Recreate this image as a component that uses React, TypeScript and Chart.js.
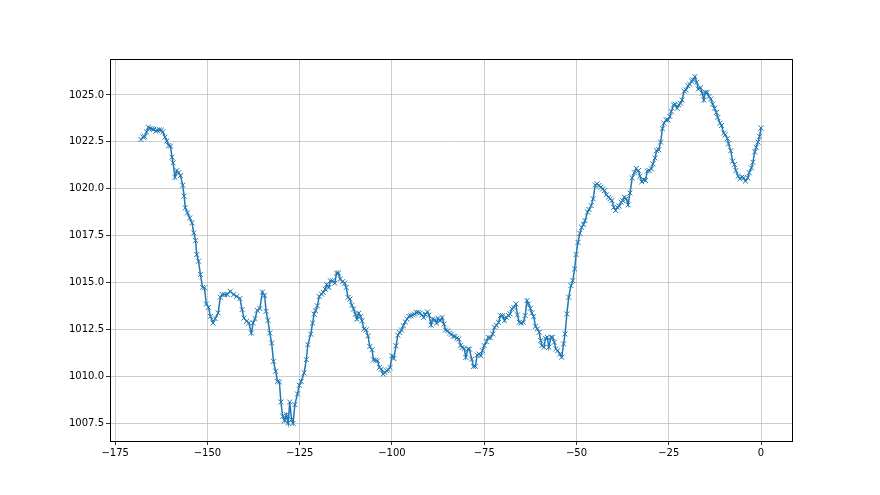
import React, { useEffect, useRef } from "react";
import { Chart, registerables } from "chart.js";

Chart.register(...registerables);

// hours relative to now
const hours: number[] = [
  -168, -167.4, -167.0, -166.5, -166.0, -165.5, -165.0, -164.6, -164.0, -163.6,
  -163.0, -162.5, -162.1, -161.5, -161.0, -160.5, -160.0, -159.6, -159.3, -158.8,
  -158.3, -157.8, -157.3, -156.7, -156.3, -156.0, -155.4, -154.8, -154.2, -153.7,
  -153.2, -152.9, -152.4, -151.9, -151.3, -150.8, -150.3, -149.7, -149.2, -148.5,
  -147.9, -147.1, -146.5, -146.0, -145.3, -144.6, -143.8, -142.9, -142.1, -141.2,
  -140.6, -140.1, -139.4, -138.8, -138.1, -137.6, -137.1, -136.5, -135.8, -135.1,
  -134.5, -134.1, -133.6, -133.1, -132.6, -132.1, -131.5, -131.0, -130.5, -130.1,
  -129.6, -129.1, -128.6, -128.1, -127.7, -127.2, -126.8, -126.3, -125.6, -125.1,
  -124.6, -123.8, -123.2, -122.8,
  -122.0, -121.5, -121.1, -120.7, -120.2, -119.7, -119.1, -118.6, -118.1, -117.7,
  -117.1, -116.7, -116.1, -115.5, -115.0, -114.5, -114.0, -113.4, -112.8, -112.4,
  -111.9, -111.4, -110.9, -110.4, -109.9, -109.5, -109.0, -108.5, -108.1, -107.6,
  -107.0, -106.5, -106.0, -105.4, -105.0, -104.4, -103.9, -103.4, -102.9, -102.4,
  -101.9, -101.4, -101.0, -100.5, -100.0, -99.5, -98.9, -98.4, -97.9, -97.4,
  -96.9, -96.4, -95.9, -95.4, -94.9, -94.4, -93.9, -93.4, -92.9, -92.4,
  -91.9, -91.4, -91.0, -90.4, -90.0, -89.4, -89.0, -88.4, -87.9, -87.5,
  -86.9, -86.4, -85.9, -85.5, -84.9, -84.4, -83.9, -83.4, -82.9, -82.4,
  -81.9, -81.4, -81.0, -80.4, -80.0, -79.4, -79.0, -78.4, -77.9,
  -77.4, -76.9, -76.4, -75.9, -75.5, -75.0, -74.4, -73.9, -73.3, -72.7,
  -72.2, -71.7, -71.1, -70.6, -70.0, -69.5, -69.0, -68.4, -68.0, -67.5,
  -67.0, -66.4, -66.0, -65.5, -65.0, -64.4, -63.9, -63.4, -63.0, -62.5,
  -62.1, -61.6, -61.1, -60.6, -60.1, -59.7, -59.4, -58.8, -58.4, -57.9,
  -57.5, -56.9, -56.5, -56.0, -55.6, -55.1, -54.5, -54.0, -53.5, -53.1,
  -52.6, -52.1, -51.5, -51.0, -50.5, -50.1, -49.6, -49.1, -48.6, -48.1,
  -47.7, -47.0, -46.6, -46.0, -45.5, -44.9, -44.4, -43.9, -43.4, -42.9,
  -42.4, -41.9, -41.3, -40.9, -40.4, -39.9, -39.4, -38.9, -38.4, -37.9,
  -37.5, -37.0, -36.5, -36.0, -35.5,
  -34.9, -34.3, -33.8, -33.2, -32.8, -32.3, -31.8, -31.3, -30.8, -30.3,
  -29.7, -29.3, -28.7, -28.3, -27.7, -27.2, -26.7, -26.3, -25.7, -25.2,
  -24.7, -24.3, -23.7, -23.3, -22.7, -22.3, -21.8, -21.4, -20.8, -20.3,
  -19.8, -19.3, -18.8, -18.4, -17.9, -17.4, -17.0, -16.4, -15.9, -15.5,
  -15.1, -14.6, -14.1, -13.6, -13.1, -12.6, -12.1, -11.7, -11.1, -10.7,
  -10.1, -9.7, -9.1, -8.8, -8.2, -7.7, -7.2, -6.8, -6.2, -5.7,
  -5.2, -4.7, -4.2, -3.6, -3.2, -2.6, -2.2, -1.7, -1.3, -0.8,
  -0.4, 0,
];

// pressure values (hPa)
const pressure: number[] = [
  1022.62, 1022.75, 1022.78, 1023.03, 1023.28, 1023.21, 1023.19, 1023.16, 1023.07, 1023.12,
  1023.14, 1023.12, 1023.03, 1022.75, 1022.54, 1022.30, 1022.27, 1021.68, 1021.38, 1020.61,
  1020.97, 1020.85, 1020.70, 1020.19, 1019.60, 1018.98, 1018.71, 1018.44, 1018.18, 1017.64,
  1017.23, 1016.49, 1016.13, 1015.42, 1014.74, 1014.71, 1013.85, 1013.67, 1013.19, 1012.84,
  1013.07, 1013.37, 1014.21, 1014.35, 1014.35, 1014.35, 1014.53, 1014.35, 1014.26, 1014.14,
  1013.55, 1013.10, 1012.93, 1012.84, 1012.30, 1012.84, 1013.07, 1013.51, 1013.60, 1014.49,
  1014.30, 1013.46, 1012.98, 1012.30, 1011.77, 1010.79, 1010.26, 1009.72, 1009.69, 1008.62,
  1007.86, 1007.62, 1007.94, 1007.50, 1008.62, 1007.68, 1007.48, 1008.48, 1009.05, 1009.51,
  1009.72, 1010.17, 1010.88, 1011.68,
  1012.24, 1012.83, 1013.31, 1013.49, 1013.75, 1014.25, 1014.38, 1014.47, 1014.64, 1014.88,
  1014.73, 1015.09, 1015.09, 1014.96, 1015.50, 1015.50, 1015.18, 1015.04, 1014.96, 1014.73,
  1014.20, 1014.11, 1013.79, 1013.58, 1013.31, 1013.04, 1013.36, 1013.19, 1012.95, 1012.51,
  1012.47, 1012.15, 1011.58, 1011.41, 1010.87, 1010.85, 1010.82, 1010.46, 1010.37, 1010.11,
  1010.20, 1010.28, 1010.34, 1010.46, 1011.09, 1010.94, 1011.62, 1012.19, 1012.33, 1012.46,
  1012.69, 1012.90, 1013.04, 1013.19, 1013.22, 1013.26, 1013.31, 1013.40, 1013.40, 1013.36,
  1013.26, 1013.13, 1013.31, 1013.43, 1013.26, 1012.72, 1013.04, 1013.01, 1012.83, 1013.08,
  1012.95, 1013.13, 1012.78, 1012.46, 1012.42, 1012.30, 1012.24, 1012.12, 1012.12, 1012.03,
  1011.98, 1011.65, 1011.53, 1011.48, 1011.00, 1011.44, 1011.44, 1010.91, 1010.52,
  1010.52, 1011.13, 1011.18, 1011.09, 1011.36, 1011.63, 1011.84, 1012.07, 1012.04, 1012.25,
  1012.61, 1012.70, 1012.87, 1013.23, 1013.23, 1012.96, 1013.14, 1013.23, 1013.32, 1013.59,
  1013.67, 1013.85, 1013.27, 1012.87, 1012.84, 1012.87, 1013.23, 1014.03, 1013.85, 1013.62,
  1013.37, 1013.18, 1012.66, 1012.52, 1012.34, 1011.90, 1011.63, 1011.54, 1012.02, 1012.07,
  1011.54, 1012.07, 1012.07, 1011.81, 1011.45, 1011.36, 1011.18, 1011.01, 1011.72, 1012.25,
  1013.32, 1014.21, 1014.83, 1015.10, 1015.72, 1016.49, 1017.14, 1017.62, 1017.94, 1018.09,
  1018.30, 1018.75, 1018.89, 1019.10, 1019.46, 1020.20, 1020.26, 1020.17, 1020.08, 1019.99,
  1019.90, 1019.67, 1019.55, 1019.46, 1019.37, 1019.01, 1018.84, 1019.01, 1019.07, 1019.28,
  1019.37, 1019.55, 1019.46, 1019.14, 1019.77,
  1020.58, 1020.85, 1021.08, 1020.97, 1020.67, 1020.37, 1020.49, 1020.44, 1020.94, 1020.97,
  1021.06, 1021.33, 1021.64, 1022.03, 1022.08, 1022.49, 1023.20, 1023.50, 1023.67, 1023.67,
  1023.85, 1024.12, 1024.47, 1024.51, 1024.29, 1024.47, 1024.56, 1024.73, 1025.21, 1025.27,
  1025.49, 1025.57, 1025.74, 1025.80, 1025.98, 1025.67, 1025.32, 1025.39, 1025.09, 1024.73,
  1025.14, 1025.14, 1024.91, 1024.79, 1024.51, 1024.29, 1024.06, 1023.80, 1023.50, 1023.37,
  1022.97, 1022.88, 1022.67, 1022.39, 1022.03, 1021.47, 1021.29, 1020.97, 1020.67, 1020.53,
  1020.62, 1020.58, 1020.41, 1020.58, 1020.85, 1021.11, 1021.41, 1021.96, 1022.21, 1022.49,
  1022.79, 1023.24,
];

const xTicks: number[] = [-175, -150, -125, -100, -75, -50, -25, 0];
const yTicks: number[] = [1007.5, 1010.0, 1012.5, 1015.0, 1017.5, 1020.0, 1022.5, 1025.0];

const frame = {
  id: "frame",
  afterDraw(chart: any) {
    const { left, top, right, bottom } = chart.chartArea;
    const ctx = chart.ctx;
    ctx.save();
    ctx.strokeStyle = "#000";
    ctx.lineWidth = 1;
    ctx.strokeRect(Math.round(left) + 0.5, Math.round(top) + 0.5, Math.round(right - left), Math.round(bottom - top));
    ctx.restore();
  },
};

export default function App() {
  const ref = useRef<HTMLCanvasElement>(null);

  useEffect(() => {
    if (!ref.current) return;
    const points = hours.map((h, i) => ({ x: h, y: pressure[i] }));
    const font = { family: "DejaVu Sans", size: 10 };
    const chart = new Chart(ref.current, {
      type: "line",
      data: {
        datasets: [
          {
            data: points,
            borderColor: "#1f77b4",
            backgroundColor: "#1f77b4",
            borderWidth: 1.5,
            pointStyle: "crossRot",
            pointRadius: 3.5,
            pointBorderWidth: 1,
            pointBorderColor: "#1f77b4",
            tension: 0,
            fill: false,
          },
        ],
      },
      options: {
        animation: false,
        responsive: false,
        devicePixelRatio: 1,
        layout: { padding: { top: 59, right: 88, bottom: 0, left: 0 } },
        plugins: { legend: { display: false }, tooltip: { enabled: false } },
        scales: {
          x: {
            type: "linear",
            min: -176.4,
            max: 8.4,
            afterBuildTicks: (s: any) => {
              s.ticks = xTicks.map((v) => ({ value: v }));
            },
            afterFit: (s: any) => {
              s.height = 54;
            },
            ticks: {
              autoSkip: false,
              maxRotation: 0,
              color: "#000",
              font,
              padding: 2,
              callback: (v: any) => (Number(v) < 0 ? "\u2212" + Math.abs(Number(v)) : String(v)),
            },
            grid: { color: "#c0c0c0", lineWidth: 0.8, tickColor: "#000", tickLength: 4 },
            border: { color: "#000", width: 1 },
          },
          y: {
            type: "linear",
            min: 1006.54,
            max: 1026.92,
            afterBuildTicks: (s: any) => {
              s.ticks = yTicks.map((v) => ({ value: v }));
            },
            afterFit: (s: any) => {
              s.width = 110;
            },
            ticks: {
              autoSkip: false,
              color: "#000",
              font,
              padding: 2,
              callback: (v: any) => Number(v).toFixed(1),
            },
            grid: { color: "#c0c0c0", lineWidth: 0.8, tickColor: "#000", tickLength: 4 },
            border: { color: "#000", width: 1 },
          },
        },
      },
      plugins: [frame],
    });
    return () => chart.destroy();
  }, []);

  return (
    <div style={{ position: "absolute", left: 0, top: 0, width: 880, height: 495, background: "#fff" }}>
      <canvas ref={ref} width={880} height={495} style={{ display: "block" }} />
    </div>
  );
}
